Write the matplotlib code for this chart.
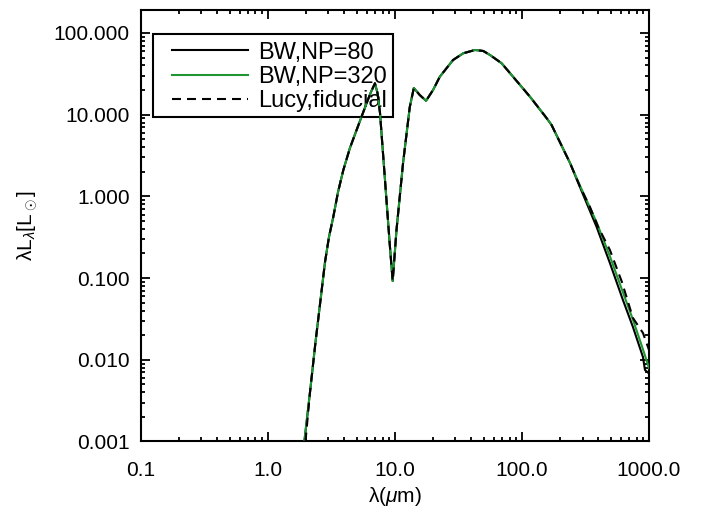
import numpy as np
import matplotlib
matplotlib.use("Agg")
import matplotlib.pyplot as plt
from matplotlib.patches import Rectangle
from matplotlib.ticker import LogLocator, FixedLocator, FuncFormatter, NullFormatter

plt.rcParams['font.family'] = ['Liberation Sans', 'DejaVu Sans']
plt.rcParams['mathtext.fontset'] = 'custom'
plt.rcParams['mathtext.rm'] = 'Liberation Sans'
plt.rcParams['mathtext.it'] = 'Liberation Sans:italic'
plt.rcParams['mathtext.sf'] = 'Liberation Sans'

# ---- data ----
wave_common = [1.94, 2.15, 2.37, 2.60, 2.82, 3.03, 3.28, 3.57, 3.93, 4.43, 5.0,
               6.0, 6.49, 6.97, 7.30, 7.64, 8.36, 9.15, 9.61, 10.3, 11.6, 13.1,
               14.1, 15.7, 17.6, 20.0, 22.6, 28.7, 34.5, 42.7, 49.6, 56.0, 69.2,
               85.0, 115.6, 156.0, 171.0, 239.0]
lum_common = [0.001, 0.00404, 0.0161, 0.054, 0.157, 0.318, 0.565, 1.13, 2.10, 3.91,
              6.5, 13.9, 19.0, 24.2, 18.4, 10.5, 1.59, 0.240, 0.092, 0.388, 2.56,
              12.4, 21.2, 17.4, 14.8, 20.1, 29.2, 46.7, 56.4, 61.9, 60.2, 53.8,
              42.6, 29.2, 16.6, 9.12, 7.48, 2.56]

wave_bw80_tail = [286, 387, 492, 623, 747, 896, 929, 1000]
lum_bw80_tail = [1.30, 0.422, 0.153, 0.054, 0.0252, 0.0108, 0.0075, 0.0068]

wave_bw320_tail = [286, 387, 492, 623, 747, 896, 1000]
lum_bw320_tail = [1.36, 0.48, 0.185, 0.067, 0.031, 0.0134, 0.0079]

wave_lucy_tail = [286, 343, 396, 492, 612, 747, 896, 1000]
lum_lucy_tail = [1.32, 0.741, 0.43, 0.221, 0.0895, 0.0325, 0.0213, 0.0132]

labels = ["BW,NP=80", "BW,NP=320", "Lucy,fiducial"]
xticks = [0.1, 1.0, 10.0, 100.0, 1000.0]
yticks = [0.001, 0.01, 0.1, 1.0, 10.0, 100.0]

wave_bw80 = wave_common + wave_bw80_tail
lum_bw80 = lum_common + lum_bw80_tail
wave_bw320 = wave_common + wave_bw320_tail
lum_bw320 = lum_common + lum_bw320_tail
wave_lucy = [1.98] + wave_common[1:] + wave_lucy_tail
lum_lucy = lum_common + lum_lucy_tail

fig = plt.figure(figsize=(7.06, 5.16), dpi=100)
ax = fig.add_axes([0.1993, 0.1444, 0.72, 0.8362])

lw = 1.5
ax.plot(wave_bw80, lum_bw80, color='black', lw=lw, label=labels[0], zorder=3)
ax.plot(wave_bw320, lum_bw320, color='#1e9632', lw=lw, label=labels[1], zorder=3)
ax.plot(wave_lucy, lum_lucy, color='black', lw=lw, linestyle=(0, (4.3, 2.9)),
        label=labels[2], zorder=3)

ax.set_xscale('log')
ax.set_yscale('log')
ax.set_xlim(0.1, 1000)
ax.set_ylim(1e-3, 191)

ax.xaxis.set_major_locator(FixedLocator(xticks))
ax.yaxis.set_major_locator(FixedLocator(yticks))
ax.xaxis.set_minor_locator(LogLocator(base=10, subs=np.arange(2, 10), numticks=20))
ax.yaxis.set_minor_locator(LogLocator(base=10, subs=np.arange(2, 10), numticks=20))
ax.xaxis.set_major_formatter(FuncFormatter(lambda v, p: "%.1f" % v))
ax.yaxis.set_major_formatter(FuncFormatter(lambda v, p: "%.3f" % v))
ax.xaxis.set_minor_formatter(NullFormatter())
ax.yaxis.set_minor_formatter(NullFormatter())

ax.tick_params(which='both', direction='in', top=True, right=True, width=1.3, labelsize=15)
ax.tick_params(which='major', length=6.5)
ax.tick_params(which='minor', length=3.2)
ax.tick_params(axis='x', which='major', pad=14)
ax.tick_params(axis='y', which='major', pad=8)
for s in ax.spines.values():
    s.set_linewidth(1.5)

ax.set_xlabel(r'λ($\mu$m)', fontsize=15, labelpad=4)
ax.set_ylabel(r'λL$_λ$[L$_\odot$]', fontsize=15, labelpad=10)

# legend (frame drawn as a separate rectangle to get IDL-like padding)
leg = ax.legend(loc='upper left', bbox_to_anchor=(0.0616, 0.927), borderaxespad=0,
                fontsize=17, handlelength=3.2, handletextpad=0.45, borderpad=0,
                labelspacing=0.1, frameon=False)
leg.set_zorder(2)
ax.add_patch(Rectangle((0.0242, 0.752), 0.4722, 0.192, transform=ax.transAxes,
                       fill=False, edgecolor='black', lw=1.5, zorder=2))

fig.savefig('out.png', dpi=100)
